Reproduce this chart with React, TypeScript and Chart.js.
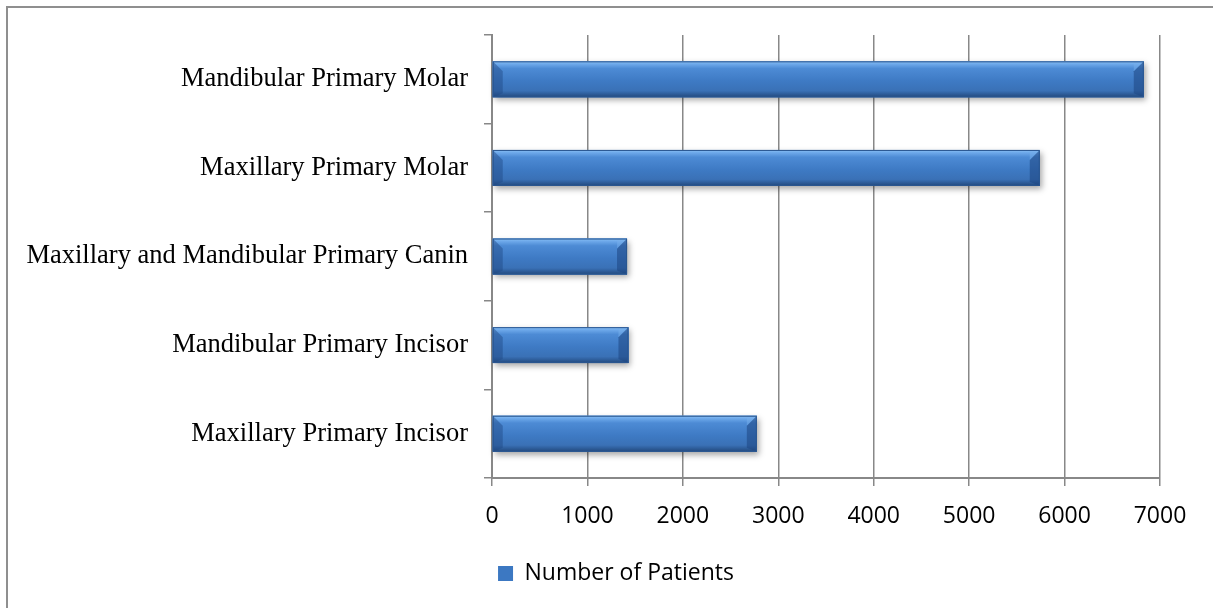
import React, { useEffect, useRef } from "react";
import { Chart, registerables } from "chart.js";

Chart.register(...registerables);

const categories = [
  "Mandibular Primary Molar",
  "Maxillary Primary Molar",
  "Maxillary and Mandibular Primary Canin",
  "Mandibular Primary Incisor",
  "Maxillary Primary Incisor",
];
const patients = [6830, 5740, 1415, 1430, 2775];
const seriesName = "Number of Patients";
const xMin = 0;
const xMax = 7000;
const xStep = 1000;

const framePlugin = {
  id: "frame",
  beforeDraw(chart: any) {
    const ctx = chart.ctx;
    ctx.save();
    ctx.fillStyle = "#ffffff";
    ctx.fillRect(0, 0, chart.width, chart.height);
    ctx.strokeStyle = "#8f8f8f";
    ctx.lineWidth = 2;
    ctx.beginPath();
    ctx.moveTo(7, chart.height + 5);
    ctx.lineTo(7, 7);
    ctx.lineTo(chart.width + 5, 7);
    ctx.stroke();
    ctx.restore();
  },
};

const legendShiftPlugin = {
  id: "legendShift",
  afterLayout(chart: any) {
    if (chart.legend) {
      chart.legend.left += 36;
      chart.legend.right += 36;
    }
  },
};

const bevelPlugin = {
  id: "bevel",
  beforeDatasetsDraw(chart: any) {
    const ctx = chart.ctx;
    const meta = chart.getDatasetMeta(0);
    ctx.save();
    meta.data.forEach((el: any) => {
      const { x, y, base, height } = el.getProps(["x", "y", "base", "height"], true);
      const top = y - height / 2;
      ctx.shadowColor = "rgba(0,0,0,0.35)";
      ctx.shadowBlur = 6;
      ctx.shadowOffsetY = 3;
      ctx.shadowOffsetX = 2;
      ctx.fillStyle = "#3C78C2";
      ctx.fillRect(base, top, x - base, height);
    });
    ctx.restore();
  },
  afterDatasetsDraw(chart: any) {
    const ctx = chart.ctx;
    const meta = chart.getDatasetMeta(0);
    ctx.save();
    meta.data.forEach((el: any) => {
      const { x, y, base, height } = el.getProps(["x", "y", "base", "height"], true);
      const top = y - height / 2;
      const bottom = y + height / 2;
      const w = x - base;
      const g = ctx.createLinearGradient(0, top, 0, bottom);
      g.addColorStop(0, "#8CC2F4");
      g.addColorStop(0.07, "#6FAAEB");
      g.addColorStop(0.2, "#4D8BD5");
      g.addColorStop(0.55, "#3E7AC4");
      g.addColorStop(0.82, "#3A71B6");
      g.addColorStop(0.9, "#2F5F9D");
      g.addColorStop(1, "#23497C");
      ctx.fillStyle = g;
      ctx.fillRect(base, top, w, height);
      const b = Math.min(10, w / 3);
      ctx.fillStyle = "rgba(30,70,130,0.55)";
      ctx.beginPath();
      ctx.moveTo(x - b, top + b);
      ctx.lineTo(x, top);
      ctx.lineTo(x, bottom);
      ctx.lineTo(x - b, bottom - b * 0.4);
      ctx.closePath();
      ctx.fill();
      ctx.fillStyle = "rgba(120,175,235,0.5)";
      ctx.beginPath();
      ctx.moveTo(x - b, top + b);
      ctx.lineTo(x, top);
      ctx.lineTo(x - b, top);
      ctx.closePath();
      ctx.fill();
      ctx.fillStyle = "rgba(30,70,130,0.45)";
      ctx.beginPath();
      ctx.moveTo(base, top);
      ctx.lineTo(base + b, top + b);
      ctx.lineTo(base + b, bottom - b * 0.4);
      ctx.lineTo(base, bottom);
      ctx.closePath();
      ctx.fill();
      ctx.strokeStyle = "#2A5690";
      ctx.lineWidth = 1;
      ctx.strokeRect(base + 0.5, top + 0.5, w - 1, height - 1);
    });
    ctx.restore();
  },
};

export default function App() {
  const ref = useRef<HTMLCanvasElement | null>(null);

  useEffect(() => {
    if (!ref.current) return;
    const chart = new Chart(ref.current, {
      type: "bar",
      data: {
        labels: categories,
        datasets: [
          {
            label: seriesName,
            data: patients,
            backgroundColor: "#3C78C2",
            borderColor: "#2A5690",
            borderWidth: 0,
            categoryPercentage: 1,
            barPercentage: 0.405,
          },
        ],
      },
      options: {
        indexAxis: "y",
        responsive: false,
        animation: false,
        devicePixelRatio: 1,
        layout: { padding: { left: 0, right: 53, top: 35, bottom: 13 } },
        plugins: {
          tooltip: { enabled: false },
          legend: {
            position: "bottom",
            labels: {
              color: "#000",
              font: { family: "Open Sans", size: 23 },
              boxWidth: 15,
              boxHeight: 15,
              padding: 10,
            },
          },
        },
        scales: {
          x: {
            min: xMin,
            max: xMax,
            ticks: {
              stepSize: xStep,
              color: "#000",
              font: { family: "Open Sans", size: 23 },
              padding: 17,
              maxRotation: 0,
              callback: (v: any) => String(v),
            },
            grid: {
              color: "#888888",
              lineWidth: 1.5,
              tickLength: 8,
            },
            border: { color: "#888888", width: 2 },
            afterFit(scale: any) {
              scale.height = 74;
            },
          },
          y: {
            ticks: {
              color: "#000",
              font: { family: "Liberation Serif", size: 26.5 },
              padding: 16,
            },
            grid: {
              drawOnChartArea: false,
              color: "#888888",
              lineWidth: 1.5,
              tickLength: 8,
              offset: true,
            },
            border: { color: "#888888", width: 2 },
            afterFit(scale: any) {
              scale.width = 492;
            },
          },
        },
      },
      plugins: [framePlugin, legendShiftPlugin, bevelPlugin],
    });
    return () => chart.destroy();
  }, []);

  return (
    <div style={{ position: "fixed", left: 0, top: 0, width: 1213, height: 608, overflow: "hidden", background: "#fff" }}>
      <canvas ref={ref} width={1213} height={608} style={{ display: "block" }} />
    </div>
  );
}
